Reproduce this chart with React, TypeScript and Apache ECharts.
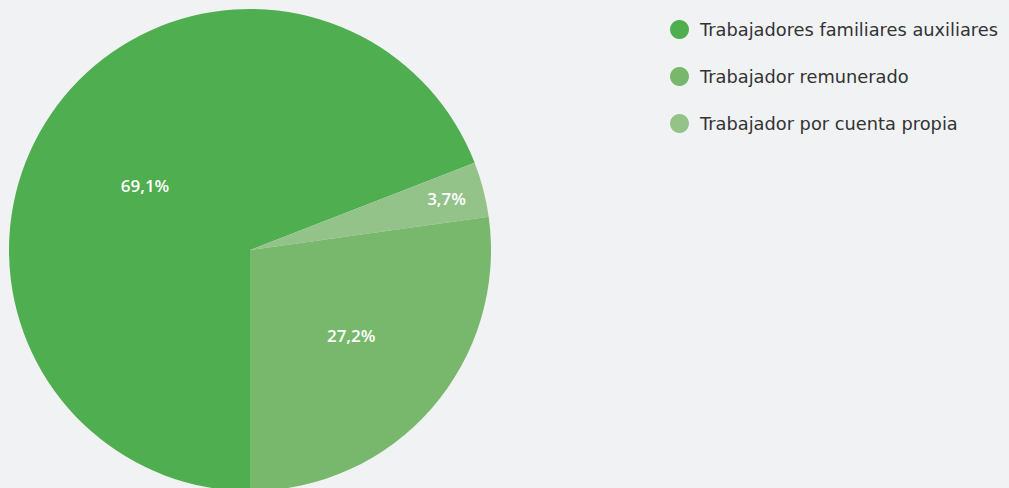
import React, { useEffect, useRef } from "react";
import * as echarts from "echarts";

const categories = [
  "Trabajadores familiares auxiliares",
  "Trabajador por cuenta propia",
  "Trabajador remunerado",
];
const values = [69.1, 3.7, 27.2];
const colors = ["#4fae4f", "#94c38a", "#78b86c"];
const legendOrder = [
  "Trabajadores familiares auxiliares",
  "Trabajador remunerado",
  "Trabajador por cuenta propia",
];

export default function App() {
  const ref = useRef<HTMLDivElement>(null);
  useEffect(() => {
    const chart = echarts.init(ref.current!, null, { renderer: "svg" });
    chart.setOption({
      animation: false,
      backgroundColor: "#f1f2f4",
      legend: {
        orient: "vertical",
        left: 665,
        top: 15,
        icon: "circle",
        itemWidth: 19,
        itemHeight: 19,
        itemGap: 28,
        data: legendOrder,
        textStyle: { fontFamily: "DejaVu Sans", fontSize: 17.8, color: "#333", padding: [0, 0, 0, 6] },
      },
      series: [
        {
          type: "pie",
          center: [250, 250],
          radius: 241,
          startAngle: 270,
          clockwise: true,
          label: {
            show: true,
            position: "inside",
            color: "#fff",
            fontFamily: "Open Sans",
            fontSize: 17,
            fontWeight: 600,
            formatter: (p: any) => p.value.toFixed(1).replace(".", ",") + "%",
          },
          labelLine: { show: false },
          itemStyle: { borderWidth: 0 },
          emphasis: { disabled: true },
          data: categories.map((name, i) => ({
            name,
            value: values[i],
            itemStyle: { color: colors[i] },
            label:
              i === 1
                ? { offset: [77, -20] }
                : i === 0
                ? { offset: [-3, 5] }
                : { offset: [8, 4] },
          })),
        },
      ],
    });
    return () => chart.dispose();
  }, []);
  return (
    <div
      ref={ref}
      style={{ position: "fixed", left: 0, top: 0, width: 1009, height: 488 }}
    />
  );
}
